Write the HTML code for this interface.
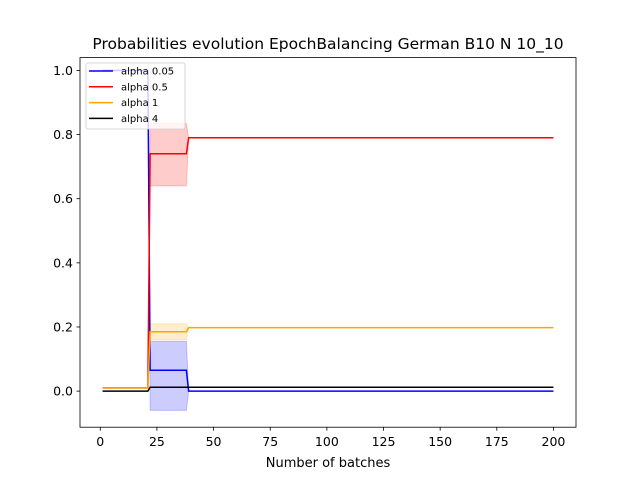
<!DOCTYPE html>
<html><head><meta charset="utf-8"><style>
body{margin:0;background:#fff}
svg text{font-family:"DejaVu Sans","Liberation Sans",sans-serif}
</style></head><body>
<svg id="chart" width="640" height="480" xmlns="http://www.w3.org/2000/svg">
<rect width="640" height="480" fill="#fff"/>
<text x="328" y="49" text-anchor="middle" font-size="15.5">Probabilities evolution EpochBalancing German B10 N 10_10</text>
<g id="bands"></g><g id="lines"></g>
<rect x="80" y="57.6" width="496" height="369.6" fill="none" stroke="#000" stroke-width="0.8"/>
<g id="xticks"></g><g id="yticks"></g>
<text x="328" y="467" text-anchor="middle" font-size="13">Number of batches</text>
<g id="legend"></g>
</svg>
<script>
const batches=[1,21,22,38,39,200];
const blueVals=[1.0,1.0,0.065,0.065,0.0,0.0];
const blueLo=[1.0,1.0,-0.06,-0.06,0.0,0.0];
const blueHi=[1.0,1.0,0.155,0.155,0.0,0.0];
const redVals=[0.01,0.01,0.74,0.74,0.79,0.79];
const redLo=[0.01,0.01,0.64,0.64,0.79,0.79];
const redHi=[0.01,0.01,0.835,0.835,0.79,0.79];
const orangeVals=[0.01,0.01,0.185,0.185,0.198,0.198];
const orangeLo=[0.01,0.01,0.16,0.16,0.198,0.198];
const orangeHi=[0.01,0.01,0.21,0.21,0.198,0.198];
const blackVals=[0.0,0.0,0.012,0.012,0.012,0.012];
const seriesNames=["alpha 0.05","alpha 0.5","alpha 1","alpha 4"];
const xTicks=[0,25,50,75,100,125,150,175,200];
const yTicks=[0.0,0.2,0.4,0.6,0.8,1.0];
const NS="http://www.w3.org/2000/svg";
const X0=80,X1=576,Y0=57.6,Y1=427.2,xmin=-8.95,xmax=209.95,ymin=-0.1125,ymax=1.04;
const sx=v=>X0+(v-xmin)/(xmax-xmin)*(X1-X0);
const sy=v=>Y1-(v-ymin)/(ymax-ymin)*(Y1-Y0);
function mk(t,a,p){const e=document.createElementNS(NS,t);for(const k in a)e.setAttribute(k,a[k]);p.appendChild(e);return e;}
const series=[
 {name:"blue",c:"#0000ff",v:blueVals,lo:blueLo,hi:blueHi},
 {name:"red",c:"#ff0000",v:redVals,lo:redLo,hi:redHi},
 {name:"orange",c:"#ffa500",v:orangeVals,lo:orangeLo,hi:orangeHi},
 {name:"black",c:"#000000",v:blackVals,lo:null,hi:null}];
const bands=document.getElementById('bands'),lines=document.getElementById('lines');
series.forEach(s=>{
 if(s.lo){
  let d=batches.map((b,i)=>(i?'L':'M')+sx(b)+','+sy(s.hi[i])).join('');
  for(let i=batches.length-1;i>=0;i--)d+='L'+sx(batches[i])+','+sy(s.lo[i]);
  const p=mk('path',{d:d+'Z',fill:s.c,'fill-opacity':0.2,stroke:s.c,'stroke-opacity':0.2},bands);
  
  
 }
 const l=mk('polyline',{points:batches.map((b,i)=>sx(b)+','+sy(s.v[i])).join(' '),fill:'none',stroke:s.c,'stroke-width':1.5},lines);
 
 
});
const xt=document.getElementById('xticks');
xTicks.forEach(t=>{mk('line',{x1:sx(t),x2:sx(t),y1:Y1,y2:Y1+3.5,stroke:'#000','stroke-width':0.8},xt);
 const e=mk('text',{x:sx(t),y:Y1+19,'text-anchor':'middle','font-size':12.5},xt);e.textContent=t;
 
 });
const yt=document.getElementById('yticks');
yTicks.forEach(t=>{mk('line',{x1:X0-3.5,x2:X0,y1:sy(t),y2:sy(t),stroke:'#000','stroke-width':0.8},yt);
 const e=mk('text',{x:X0-7,y:sy(t)+4.5,'text-anchor':'end','font-size':12.5},yt);e.textContent=t.toFixed(1);
 
 });
const lg=document.getElementById('legend');


mk('rect',{x:86,y:63,width:99,height:66,rx:2,fill:'#fff','fill-opacity':0.8,stroke:'#ccc','stroke-width':0.8},lg);
series.forEach((s,i)=>{const y=71+i*15.8;
 mk('line',{x1:89,x2:113,y1:y,y2:y,stroke:s.c,'stroke-width':1.5},lg);
 const e=mk('text',{x:121,y:y+3.5,'font-size':10},lg);e.textContent=seriesNames[i];
 
 });
</script>
</body></html>
